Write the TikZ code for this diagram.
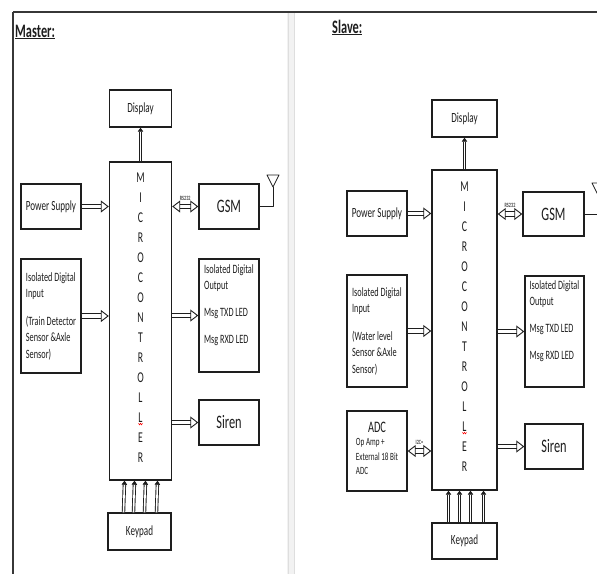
\documentclass[tikz,border=0pt]{standalone}
\usepackage{fontspec}
\setmainfont{Carlito}
\newfontfamily\narrow[FakeStretch=0.65]{Carlito}
\usetikzlibrary{arrows.meta,calc}
\definecolor{ink}{RGB}{30,30,30}
\definecolor{rule}{RGB}{55,55,55}
\definecolor{pane}{RGB}{222,222,222}
\tikzset{
  blk/.style={draw=ink,line width=1.4pt,align=left,text=ink,inner sep=1pt,
    font=\narrow\fontsize{12.7}{16.5}\selectfont},
  mid/.style={font=\narrow\fontsize{14}{16}\selectfont},
  big/.style={font=\narrow\fontsize{19}{20}\selectfont},
  mcl/.style={font=\narrow\fontsize{15}{15}\selectfont,text=ink,inner sep=0pt},
  bus/.style={draw=ink,line width=0.9pt,double=white,double distance=3.4pt,
    -{Triangle[open,length=8pt,width=12pt,line width=0.9pt]}},
  bus2/.style={bus,{Triangle[open,length=8pt,width=12pt,line width=0.9pt]}-{Triangle[open,length=8pt,width=12pt,line width=0.9pt]}},
  keyw/.style={draw=ink,line width=0.9pt,double=white,double distance=1.6pt,
    -{Triangle[length=4pt,width=5.5pt,line width=0.5pt]}},
  tag/.style={font=\narrow\bfseries\fontsize{6.5}{6.5}\selectfont,text=ink!80,inner sep=1pt},
  panelhead/.style={font=\narrow\bfseries\fontsize{19}{20}\selectfont,text=ink,anchor=base west,inner sep=0pt},
  aerial/.style={draw=ink,line width=0.8pt,line join=round},
  spell/.style={draw=red,line width=0.5pt},
}
\begin{document}
\begin{tikzpicture}[x=1pt,y=-1pt]
\clip (0,0) rectangle (597,574);
\fill[white] (0,0) rectangle (597,574);

% page frame
\fill[pane!40] (287,13) rectangle (295,574);
\draw[pane,line width=0.8pt] (288,13) -- (288,574) (294,13) -- (294,574);
\draw[rule,line width=2.5pt] (13,12) -- (597,12);
\draw[rule,line width=2pt] (13,12) -- (13,574);

% ---------- master ----------
\node[panelhead] (mtitle) at (15,37) {\underline{Master:}};
\node[blk,mid,minimum width=62pt,minimum height=37pt] (mdisp) at (140.5,108.5) {Display};
\node[blk,minimum width=62pt,minimum height=318pt] (mmc) at (140.5,321) {};
\foreach \ch [count=\i] in {M,I,C,R,O,C,O,N,T,R,O,L,L,E,R}
  \node[mcl] (ml\i) at ($(mmc.north)+(0,{16+20*(\i-1)})$) {\ch};
\draw[spell] ($(ml13.south)+(-2,1)$) -- ++(1,1.5) -- ++(1,-1.5) -- ++(1,1.5) -- ++(1,-1.5);
\node[blk,mid,minimum width=60pt,minimum height=45pt] (mps) at (51,206.5) {Power Supply};
\node[blk,minimum width=60pt,minimum height=114pt] (mdin) at (51,316)
  {Isolated Digital\\Input\\[11pt](Train Detector\\Sensor \&Axle\\Sensor)};
\node[blk,big,minimum width=60pt,minimum height=45pt] (mgsm) at (229,206.5) {GSM};
\node[blk,minimum width=60pt,minimum height=113pt] (mdout) at (229,315.5)
  {Isolated Digital\\Output\\[10.5pt]Msg TXD LED\\[10.5pt]Msg RXD LED\\[6pt]};
\node[blk,big,minimum width=60pt,minimum height=45pt] (msiren) at (229,422.5) {Siren};
\node[blk,mid,minimum width=63pt,minimum height=37pt] (mkey) at (139.5,531.5) {Keypad};

\draw[keyw] (mmc.north) -- (mdisp.south);
\draw[bus] (mps.east) -- (mps.east -| mmc.west);
\draw[bus] (mdin.east) -- (mdin.east -| mmc.west);
\draw[bus2] (mmc.east |- mgsm.west) -- (mgsm.west) node[tag,midway,above=5pt] {RS232};
\draw[bus] (mmc.east |- mdout.west) -- (mdout.west);
\draw[bus] (mmc.east |- msiren.west) -- (msiren.west);
\foreach \dx in {-16,-6,5,17}
  \draw[keyw] ($(mkey.north)+(\dx,0)$) -- ($(mmc.south)+(\dx,0)$);
\coordinate (mant) at (273,187);
\draw[aerial] (mgsm.east) -| (mant);
\draw[aerial] (mant) -- ++(-6,-12) -- ++(12,0) -- cycle;

% ---------- slave ----------
\node[panelhead] (stitle) at (332,33) {\underline{Slave:}};
\node[blk,mid,minimum width=65pt,minimum height=37pt] (sdisp) at (464.5,118.5) {Display};
\node[blk,minimum width=65pt,minimum height=320pt] (smc) at (464.5,330) {};
\foreach \ch [count=\i] in {M,I,C,R,O,C,O,N,T,R,O,L,L,E,R}
  \node[mcl] (sl\i) at ($(smc.north)+(0,{17+20*(\i-1)})$) {\ch};
\draw[spell] ($(sl13.south)+(-2,1)$) -- ++(1,1.5) -- ++(1,-1.5) -- ++(1,1.5) -- ++(1,-1.5);
\node[blk,mid,minimum width=60pt,minimum height=45pt] (sps) at (377,213.5) {Power Supply};
\node[blk,minimum width=60pt,minimum height=112pt] (sdin) at (377,331)
  {Isolated Digital\\Input\\[11pt](Water level\\Sensor \&Axle\\Sensor)};
\node[blk,align=center,minimum width=60pt,minimum height=80pt] (sadc) at (377,451)
  {\fontsize{16}{18}\selectfont ADC\\[1pt]
   \fontsize{11}{15.5}\selectfont\begin{tabular}{@{}l@{}}Op Amp +\\[-1pt]External 18 Bit\\[-1pt]ADC\end{tabular}};
\node[blk,big,minimum width=61pt,minimum height=44pt] (sgsm) at (553.5,214) {GSM};
\node[blk,minimum width=59pt,minimum height=111pt] (sdout) at (554.5,331.5)
  {Isolated Digital\\Output\\[10.5pt]Msg TXD LED\\[10.5pt]Msg RXD LED\\[6pt]};
\node[blk,big,minimum width=58pt,minimum height=45pt] (ssiren) at (554,446.5) {Siren};
\node[blk,mid,minimum width=65pt,minimum height=36pt] (skey) at (464.5,541) {Keypad};

\draw[keyw] (smc.north) -- (sdisp.south);
\draw[bus] (sps.east) -- (sps.east -| smc.west);
\draw[bus] (sdin.east) -- (sdin.east -| smc.west);
\draw[bus2] (sadc.east) -- (sadc.east -| smc.west) node[tag,midway,above=5pt] {I2C=};
\draw[bus2] (smc.east |- sgsm.west) -- (sgsm.west) node[tag,midway,above=5pt] {RS232};
\draw[bus] (smc.east |- sdout.west) -- (sdout.west);
\draw[bus] (smc.east |- ssiren.west) -- (ssiren.west);
\foreach \dx in {-16,-5,6,19}
  \draw[keyw] ($(skey.north)+(\dx,0)$) -- ($(smc.south)+(\dx,0)$);
\coordinate (sant) at (598,195);
\draw[aerial] (sgsm.east) -| (sant);
\draw[aerial] (sant) -- ++(-6,-12) -- ++(12,0) -- cycle;
\end{tikzpicture}
\end{document}
